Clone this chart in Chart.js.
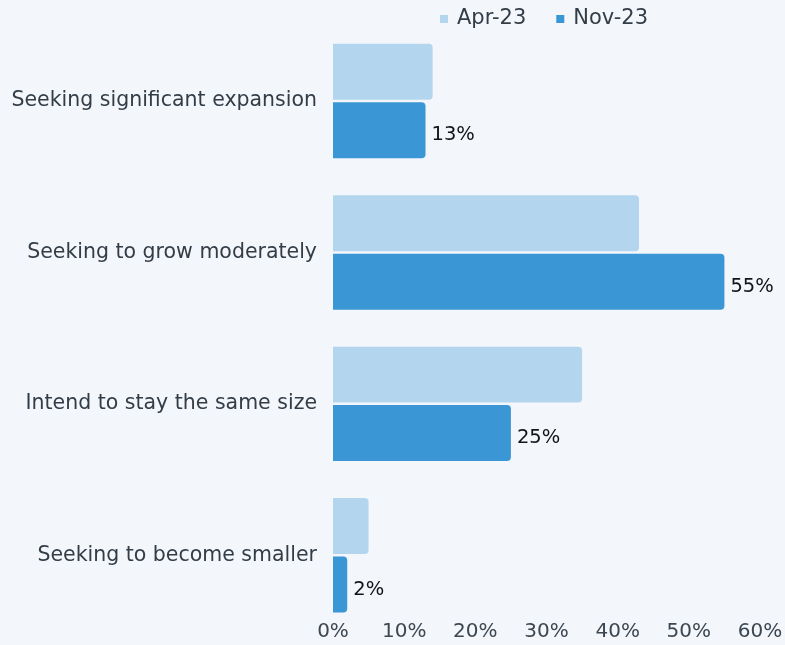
<!DOCTYPE html>
<html>
<head>
<meta charset="utf-8">
<script src="https://cdn.jsdelivr.net/npm/chart.js@4"></script>
<style>
  html, body { margin: 0; padding: 0; background: #f3f6fb; }
  #wrap { width: 785px; height: 645px; position: relative; }
</style>
</head>
<body>
<div id="wrap"><canvas id="c"></canvas></div>
<script>
const categories = [
  "Seeking significant expansion",
  "Seeking to grow moderately",
  "Intend to stay the same size",
  "Seeking to become smaller"
];
const seriesNames = ["Apr-23", "Nov-23"];
const apr23 = [14, 43, 35, 5];
const nov23 = [13, 55, 25, 2];
const tickValues = [0, 10, 20, 30, 40, 50, 60];

const FONT = "'DejaVu Sans', sans-serif";
const TEXT = "#333d47";

const legendPlugin = {
  id: 'customLegend',
  afterDraw(chart) {
    const ctx = chart.ctx;
    ctx.save();
    ctx.font = "21px " + FONT;
    ctx.textBaseline = 'middle';
    ctx.textAlign = 'left';
    const y = 19;
    const sq = 8, gapSq = 9, gapItems = 30;
    const items = chart.data.datasets.map(d => ({ text: d.label, color: d.backgroundColor }));
    let total = 0;
    items.forEach((it, i) => {
      it.w = ctx.measureText(it.text).width;
      total += sq + gapSq + it.w + (i < items.length - 1 ? gapItems : 0);
    });
    const ca = chart.chartArea;
    let x = (ca.left + ca.right) / 2 - total / 2 - 2.5;
    items.forEach(it => {
      ctx.fillStyle = it.color;
      ctx.fillRect(x, y - sq / 2, sq, sq);
      x += sq + gapSq;
      ctx.fillStyle = TEXT;
      ctx.fillText(it.text, x, y);
      x += it.w + gapItems;
    });
    ctx.restore();
  }
};

const valueLabels = {
  id: 'valueLabels',
  afterDatasetsDraw(chart) {
    const ctx = chart.ctx;
    const meta = chart.getDatasetMeta(1);
    ctx.save();
    ctx.font = "19.5px " + FONT;
    ctx.fillStyle = "#111518";
    ctx.textAlign = 'left';
    ctx.textBaseline = 'middle';
    meta.data.forEach((bar, i) => {
      ctx.fillText(chart.data.datasets[1].data[i] + "%", bar.x + 6, bar.y + 5);
    });
    ctx.restore();
  }
};

new Chart(document.getElementById('c'), {
  type: 'bar',
  data: {
    labels: categories,
    datasets: [
      { label: seriesNames[0], data: apr23, backgroundColor: "#b3d6ee", borderRadius: 4, borderSkipped: 'start',
        categoryPercentage: 0.772, barPercentage: 0.957 },
      { label: seriesNames[1], data: nov23, backgroundColor: "#3a96d4", borderRadius: 4, borderSkipped: 'start',
        categoryPercentage: 0.772, barPercentage: 0.957 }
    ]
  },
  options: {
    indexAxis: 'y',
    responsive: true,
    maintainAspectRatio: false,
    animation: false,
    layout: { padding: { top: 25.3, right: 25, left: 0, bottom: 0 } },
    plugins: { legend: { display: false }, tooltip: { enabled: false } },
    scales: {
      x: {
        min: 0, max: 60,
        afterBuildTicks(scale) { scale.ticks = tickValues.map(v => ({ value: v })); },
        afterFit(scale) { scale.height = 14; },
        grid: { display: false, drawTicks: false },
        border: { display: false },
        ticks: {
          callback: v => v + "%",
          color: "#3d4751",
          font: { family: FONT, size: 20 },
          mirror: true,
          padding: -13,
          maxRotation: 0,
          autoSkip: false
        }
      },
      y: {
        afterFit(scale) { scale.width = 333; scale.paddingTop = 0; scale.paddingBottom = 0; },
        grid: { display: false, drawTicks: false },
        border: { display: false },
        ticks: {
          color: TEXT,
          font: { family: FONT, size: 20.5 },
          padding: 16
        }
      }
    }
  },
  plugins: [legendPlugin, valueLabels]
});
</script>
</body>
</html>
